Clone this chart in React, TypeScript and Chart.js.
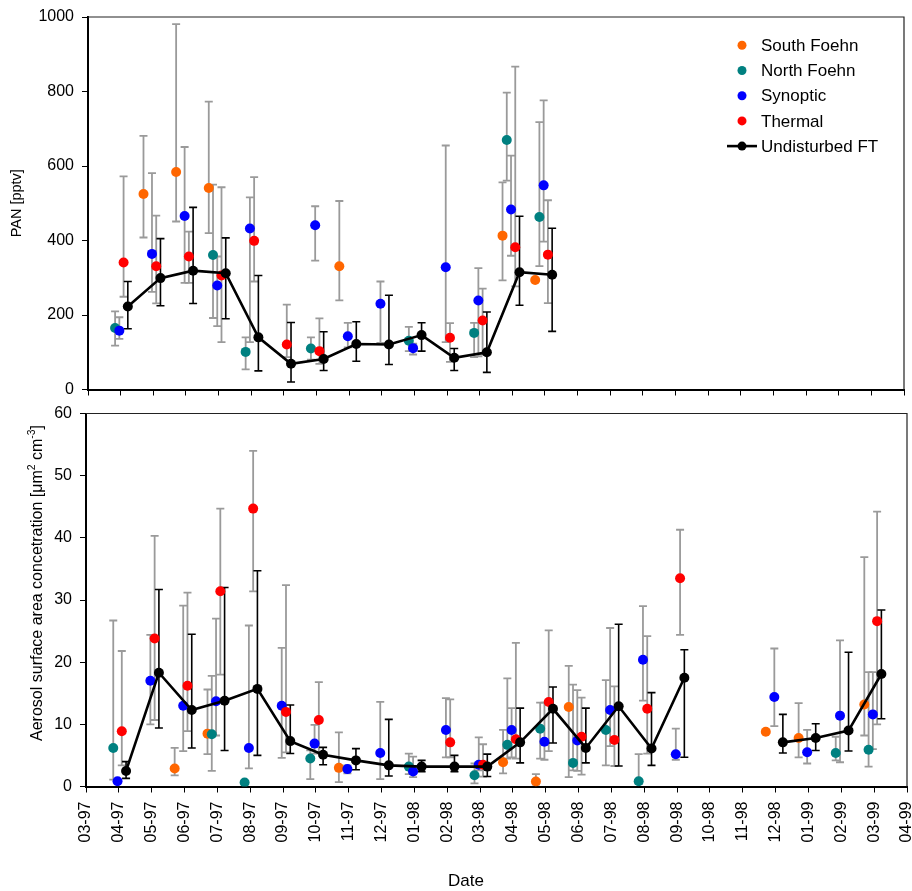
import React, { useEffect, useRef } from "react";
import { Chart, registerables } from "chart.js";

Chart.register(...registerables);

// ---------------- data ----------------
const MONTHS = [
  "03-97", "04-97", "05-97", "06-97", "07-97", "08-97", "09-97", "10-97", "11-97", "12-97",
  "01-98", "02-98", "03-98", "04-98", "05-98", "06-98", "07-98", "08-98", "09-98", "10-98",
  "11-98", "12-98", "01-99", "02-99", "03-99", "04-99",
];

const SERIES_NAMES = ["South Foehn", "North Foehn", "Synoptic", "Thermal", "Undisturbed FT"];

// PAN [pptv] panel
const panSouthMonths = ["05-97", "06-97", "07-97", "11-97", "04-98", "05-98"];
const panSouthValues = [525, 584, 541, 331, 413, 294];
const panSouthLow = [408, 451, 420, 239, 293, null];
const panSouthHigh = [681, 981, 773, 506, 556, null];

const panNorthMonths = ["04-97", "07-97", "08-97", "10-97", "01-98", "03-98", "04-98", "05-98"];
const panNorthValues = [165, 361, 101, 110, 131, 152, 670, 463];
const panNorthLow = [118, 192, 54, 80, 103, 87, 561, 331];
const panNorthHigh = [210, 550, 140, 140, 168, 179, 797, 718];

const panSynMonths = ["04-97", "05-97", "06-97", "07-97", "08-97", "10-97", "11-97", "12-97", "01-98", "02-98", "03-98", "04-98", "05-98"];
const panSynValues = [158, 364, 466, 279, 432, 441, 143, 230, 111, 328, 239, 483, 548];
const panSynLow = [136, 262, 286, 170, 127, 346, 113, 125, 94, 127, 89, 359, 397];
const panSynHigh = [194, 581, 651, 357, 516, 492, 179, 290, 123, 655, 326, 628, 776];

const panThermMonths = ["04-97", "05-97", "06-97", "07-97", "08-97", "09-97", "10-97", "02-98", "03-98", "04-98", "05-98"];
const panThermValues = [341, 331, 357, 306, 399, 121, 103, 139, 185, 382, 362];
const panThermLow = [249, 231, 286, 127, 290, 87, 69, 74, 94, 277, 232];
const panThermHigh = [572, 467, 424, 543, 570, 228, 191, 178, 271, 867, 508];

const panFtMonths = ["04-97", "05-97", "06-97", "07-97", "08-97", "09-97", "10-97", "11-97", "12-97", "01-98", "02-98", "03-98", "04-98", "05-98"];
const panFtValues = [223, 299, 319, 312, 140, 69, 82, 122, 121, 146, 85, 100, 315, 308];
const panFtLow = [163, 225, 231, 190, 50, 20, 51, 76, 67, 103, 51, 46, 226, 156];
const panFtHigh = [290, 405, 489, 407, 306, 180, 155, 182, 253, 179, 110, 208, 465, 433];

// Aerosol surface area panel
const aerSouthMonths = ["06-97", "07-97", "11-97", "04-98", "05-98", "06-98", "12-98", "01-99", "03-99"];
const aerSouthValues = [2.9, 8.5, 3.0, 3.9, 0.8, 12.8, 8.8, 7.8, 13.2];
const aerSouthLow = [1.8, 5.2, 0.7, 2.1, 0.3, 1.5, null, 4.7, 8.2];
const aerSouthHigh = [6.2, 15.6, 8.7, 9.1, 2.0, 19.4, null, 13.4, 36.9];

const aerNorthMonths = ["04-97", "07-97", "08-97", "10-97", "01-98", "03-98", "04-98", "05-98", "06-98", "07-98", "08-98", "02-99", "03-99"];
const aerNorthValues = [6.2, 8.4, 0.65, 4.5, 3.2, 1.8, 6.7, 9.3, 3.8, 9.1, 0.85, 5.4, 5.9];
const aerNorthLow = [1.1, 2.5, null, 1.2, 2.0, 0.5, 4.5, 4.5, 2.6, 3.4, 0.4, 4.2, 3.2];
const aerNorthHigh = [26.7, 17.8, null, 5.8, 5.3, 3.7, 17.4, 13.5, 16.4, 17.1, 5.2, 8.0, 18.4];

const aerSynMonths = ["04-97", "05-97", "06-97", "07-97", "08-97", "09-97", "10-97", "11-97", "12-97", "01-98", "02-98", "03-98", "04-98", "05-98", "06-98", "07-98", "08-98", "09-98", "12-98", "01-99", "02-99", "03-99"];
const aerSynValues = [0.85, 17.0, 13.0, 13.7, 6.2, 13.0, 6.9, 2.8, 5.4, 2.4, 9.1, 3.5, 9.1, 7.2, 7.4, 12.3, 20.4, 5.2, 14.4, 5.5, 11.4, 11.6];
const aerSynLow = [null, 10.0, 5.7, 8.2, 2.9, 4.6, 5.3, 2.1, 1.2, 1.5, 4.7, 2.6, 4.7, 4.3, 2.5, 6.5, 13.8, 4.3, 9.7, 3.7, 3.9, 6.0];
const aerSynHigh = [null, 24.4, 29.1, 27.0, 25.9, 22.3, 9.9, 3.4, 13.6, 4.8, 14.2, 7.9, 12.6, 13.5, 15.5, 25.5, 29.0, 9.3, 22.2, 9.1, 23.5, 18.4];

const aerThermMonths = ["04-97", "05-97", "06-97", "07-97", "08-97", "09-97", "10-97", "02-98", "03-98", "04-98", "05-98", "06-98", "07-98", "08-98", "09-98", "03-99"];
const aerThermValues = [8.9, 23.8, 16.2, 31.4, 44.7, 12.0, 10.7, 7.1, 3.5, 7.6, 13.6, 8.0, 7.5, 12.5, 33.5, 26.6];
const aerThermLow = [3.4, 10.7, 8.9, 18.0, 31.4, 5.5, 5.5, 4.7, 1.6, 4.5, 5.7, 1.9, 3.3, 5.3, 24.4, 10.0];
const aerThermHigh = [21.8, 40.3, 31.2, 44.7, 54.0, 32.4, 16.8, 14.0, 6.8, 23.1, 25.1, 14.3, 16.1, 24.2, 41.3, 44.2];

const aerFtMonths = ["04-97", "05-97", "06-97", "07-97", "08-97", "09-97", "10-97", "11-97", "12-97", "01-98", "02-98", "03-98", "04-98", "05-98", "06-98", "07-98", "08-98", "09-98", "12-98", "01-99", "02-99", "03-99"];
const aerFtValues = [2.5, 18.3, 12.3, 13.8, 15.7, 7.3, 5.1, 4.2, 3.4, 3.2, 3.2, 3.2, 7.1, 12.5, 6.2, 12.9, 6.1, 17.5, 7.1, 7.8, 9.0, 18.1];
const aerFtLow = [1.3, 9.4, 6.2, 5.8, 5.0, 5.3, 3.5, 2.7, 1.7, 2.4, 2.4, 1.6, 3.8, 7.0, 3.8, 3.3, 3.4, 4.7, 5.4, 5.8, 5.7, 10.9];
const aerFtHigh = [4.0, 31.7, 24.5, 32.0, 34.7, 13.1, 6.3, 6.1, 10.8, 4.2, 5.0, 5.2, 12.6, 16.0, 12.6, 26.1, 15.1, 22.0, 11.6, 10.1, 21.6, 28.4];

const panTicks = [0, 200, 400, 600, 800, 1000];
const aerTicks = [0, 10, 20, 30, 40, 50, 60];

// ---------------- styles ----------------
const FONT = "'Liberation Sans', Arial, Helvetica, sans-serif";
const SERIES_COLORS = ["#FF6600", "#008080", "#0000FF", "#FF0000", "#000000"];
const SERIES_SHIFT = [-0.3, -0.17, -0.04, 0.09, 0.22]; // horizontal shift within a month
const ERR_COLORS = ["#9a9a9a", "#9a9a9a", "#9a9a9a", "#9a9a9a", "#000000"];

type Pt = { x: number; y: number | null; lo?: number | null; hi?: number | null };

function buildPoints(
  months: string[], values: number[], low: (number | null)[], high: (number | null)[],
  shift: number, breakGaps: boolean
): Pt[] {
  const pts: Pt[] = [];
  let prev = -1;
  months.forEach((m, i) => {
    const idx = MONTHS.indexOf(m);
    if (breakGaps && prev >= 0 && idx - prev > 1) pts.push({ x: prev + 0.5 + shift, y: null });
    pts.push({ x: idx + shift, y: values[i], lo: low[i], hi: high[i] });
    prev = idx;
  });
  return pts;
}

type Group = [string[], number[], (number | null)[], (number | null)[]];

function makeDatasets(groups: Group[]) {
  return groups.map((g, k) => ({
    label: SERIES_NAMES[k],
    data: buildPoints(g[0], g[1], g[2], g[3], SERIES_SHIFT[k], k === 4),
    backgroundColor: SERIES_COLORS[k],
    borderColor: SERIES_COLORS[k],
    pointBackgroundColor: SERIES_COLORS[k],
    pointBorderWidth: 0,
    pointRadius: 5,
    pointHoverRadius: 5,
    showLine: k === 4,
    borderWidth: 2.6,
    tension: 0,
    spanGaps: false,
    order: 5 - k,
    errColor: ERR_COLORS[k],
    errWidth: k === 4 ? 1.6 : 1.8,
  }));
}

const errorBarPlugin = {
  id: "errorBars",
  beforeDatasetsDraw(chart: any) {
    const ctx = chart.ctx;
    const yScale = chart.scales.y;
    ctx.save();
    chart.data.datasets.forEach((ds: any, i: number) => {
      const meta = chart.getDatasetMeta(i);
      ctx.strokeStyle = ds.errColor;
      ctx.lineWidth = ds.errWidth;
      ds.data.forEach((d: any, j: number) => {
        if (d.y == null) return;
        if (d.lo == null && d.hi == null) return;
        const el = meta.data[j];
        if (!el) return;
        const px = el.x;
        const yTop = yScale.getPixelForValue(d.hi ?? d.y);
        const yBot = yScale.getPixelForValue(d.lo ?? d.y);
        ctx.beginPath();
        ctx.moveTo(px, yTop);
        ctx.lineTo(px, yBot);
        if (d.hi != null) { ctx.moveTo(px - 4, yTop); ctx.lineTo(px + 4, yTop); }
        if (d.lo != null) { ctx.moveTo(px - 4, yBot); ctx.lineTo(px + 4, yBot); }
        ctx.stroke();
      });
    });
    ctx.restore();
  },
};

const framePlugin = {
  id: "frame",
  afterDraw(chart: any) {
    const { ctx, chartArea: a } = chart;
    ctx.save();
    ctx.strokeStyle = "#222";
    ctx.lineWidth = 1.2;
    ctx.beginPath();
    ctx.moveTo(a.left, a.top);
    ctx.lineTo(a.right, a.top);
    ctx.lineTo(a.right, a.bottom);
    ctx.stroke();
    ctx.restore();
  },
};

type Part = { t: string; sup?: boolean };

function drawVerticalTitle(ctx: CanvasRenderingContext2D, parts: Part[], cx: number, cy: number, size: number) {
  ctx.save();
  ctx.translate(cx, cy);
  ctx.rotate(-Math.PI / 2);
  ctx.fillStyle = "#000";
  ctx.textBaseline = "middle";
  ctx.textAlign = "left";
  const supSize = size * 0.65;
  let total = 0;
  const widths = parts.map((p) => {
    ctx.font = `${p.sup ? supSize : size}px ${FONT}`;
    const w = ctx.measureText(p.t).width;
    total += w;
    return w;
  });
  let x = -total / 2;
  parts.forEach((p, i) => {
    ctx.font = `${p.sup ? supSize : size}px ${FONT}`;
    ctx.fillText(p.t, x, p.sup ? -size * 0.38 : 0);
    x += widths[i];
  });
  ctx.restore();
}

const topTextPlugin = {
  id: "topText",
  afterDraw(chart: any) {
    const ctx = chart.ctx as CanvasRenderingContext2D;
    const a = chart.chartArea;
    drawVerticalTitle(ctx, [{ t: "PAN [pptv]" }], 17, (a.top + a.bottom) / 2, 14.5);
    // legend
    const mx = a.right - 162;
    const tx = a.right - 143;
    ctx.save();
    ctx.font = `17px ${FONT}`;
    ctx.textBaseline = "middle";
    ctx.textAlign = "left";
    SERIES_NAMES.forEach((name, k) => {
      const y = a.top + 28.3 + k * 25.2;
      if (k === 4) {
        ctx.strokeStyle = "#000";
        ctx.lineWidth = 2.6;
        ctx.beginPath();
        ctx.moveTo(mx - 15, y);
        ctx.lineTo(mx + 15, y);
        ctx.stroke();
      }
      ctx.fillStyle = SERIES_COLORS[k];
      ctx.beginPath();
      ctx.arc(mx, y, 4.5, 0, Math.PI * 2);
      ctx.fill();
      ctx.fillStyle = "#000";
      ctx.fillText(name, tx, y + 1);
    });
    ctx.restore();
  },
};

const bottomTextPlugin = {
  id: "bottomText",
  afterDraw(chart: any) {
    const ctx = chart.ctx as CanvasRenderingContext2D;
    drawVerticalTitle(
      ctx,
      [
        { t: "Aerosol surface area concetration [\u03BCm" },
        { t: "2", sup: true },
        { t: " cm" },
        { t: "-3", sup: true },
        { t: "]" },
      ],
      38,
      183,
      16
    );
    ctx.save();
    ctx.font = `17px ${FONT}`;
    ctx.fillStyle = "#000";
    ctx.textAlign = "center";
    ctx.textBaseline = "middle";
    ctx.fillText("Date", 466, 481);
    ctx.restore();
  },
};

function makeOptions(opts: {
  yTicks: number[]; yWidth: number; xHeight: number; padding: any; showXLabels: boolean;
}) {
  const yMin = opts.yTicks[0];
  const yMax = opts.yTicks[opts.yTicks.length - 1];
  const yStep = opts.yTicks[1] - opts.yTicks[0];
  return {
    responsive: false,
    animation: false as const,
    events: [],
    layout: { padding: opts.padding },
    plugins: { legend: { display: false }, tooltip: { enabled: false } },
    scales: {
      x: {
        type: "linear" as const,
        min: 0,
        max: MONTHS.length - 1,
        grid: { drawOnChartArea: false, color: "#000", tickLength: 6, tickWidth: 1 },
        border: { display: true, color: "#000", width: 2 },
        ticks: {
          display: opts.showXLabels,
          stepSize: 1,
          autoSkip: false,
          maxTicksLimit: 100,
          maxRotation: 90,
          minRotation: 90,
          padding: 9,
          color: "#000",
          font: { family: FONT, size: 16 },
          callback: (v: any) => MONTHS[Math.round(Number(v))] ?? "",
        },
        afterFit: (axis: any) => {
          axis.height = opts.xHeight;
          axis.paddingLeft = 0;
          axis.paddingRight = 0;
        },
      },
      y: {
        type: "linear" as const,
        min: yMin,
        max: yMax,
        grid: { drawOnChartArea: false, color: "#000", tickLength: 6, tickWidth: 1 },
        border: { display: true, color: "#000", width: 2 },
        ticks: {
          stepSize: yStep,
          padding: 8,
          color: "#000",
          font: { family: FONT, size: 16 },
          callback: (v: any) => String(v),
        },
        afterFit: (axis: any) => {
          axis.width = opts.yWidth;
          axis.paddingTop = 0;
          axis.paddingBottom = 0;
        },
      },
    },
  };
}

export default function App() {
  const topRef = useRef<HTMLCanvasElement>(null);
  const botRef = useRef<HTMLCanvasElement>(null);

  useEffect(() => {
    const topChart = new Chart(topRef.current as HTMLCanvasElement, {
      type: "scatter",
      data: {
        datasets: makeDatasets([
          [panSouthMonths, panSouthValues, panSouthLow, panSouthHigh],
          [panNorthMonths, panNorthValues, panNorthLow, panNorthHigh],
          [panSynMonths, panSynValues, panSynLow, panSynHigh],
          [panThermMonths, panThermValues, panThermLow, panThermHigh],
          [panFtMonths, panFtValues, panFtLow, panFtHigh],
        ]) as any,
      },
      options: makeOptions({
        yTicks: panTicks,
        yWidth: 88,
        xHeight: 10.5,
        padding: { top: 17, right: 8, bottom: 0, left: 0 },
        showXLabels: false,
      }) as any,
      plugins: [errorBarPlugin, framePlugin, topTextPlugin],
    });

    const bottomChart = new Chart(botRef.current as HTMLCanvasElement, {
      type: "scatter",
      data: {
        datasets: makeDatasets([
          [aerSouthMonths, aerSouthValues, aerSouthLow, aerSouthHigh],
          [aerNorthMonths, aerNorthValues, aerNorthLow, aerNorthHigh],
          [aerSynMonths, aerSynValues, aerSynLow, aerSynHigh],
          [aerThermMonths, aerThermValues, aerThermLow, aerThermHigh],
          [aerFtMonths, aerFtValues, aerFtLow, aerFtHigh],
        ]) as any,
      },
      options: makeOptions({
        yTicks: aerTicks,
        yWidth: 86,
        xHeight: 104.5,
        padding: { top: 13.5, right: 5, bottom: 0, left: 0 },
        showXLabels: true,
      }) as any,
      plugins: [errorBarPlugin, framePlugin, bottomTextPlugin],
    });

    return () => {
      topChart.destroy();
      bottomChart.destroy();
    };
  }, []);

  return (
    <div style={{ position: "absolute", left: 0, top: 0, width: 912, height: 891, background: "#fff" }}>
      <canvas
        ref={topRef}
        width={912}
        height={400}
        style={{ position: "absolute", left: 0, top: 0, width: 912, height: 400 }}
      />
      <canvas
        ref={botRef}
        width={912}
        height={491}
        style={{ position: "absolute", left: 0, top: 400, width: 912, height: 491 }}
      />
    </div>
  );
}
